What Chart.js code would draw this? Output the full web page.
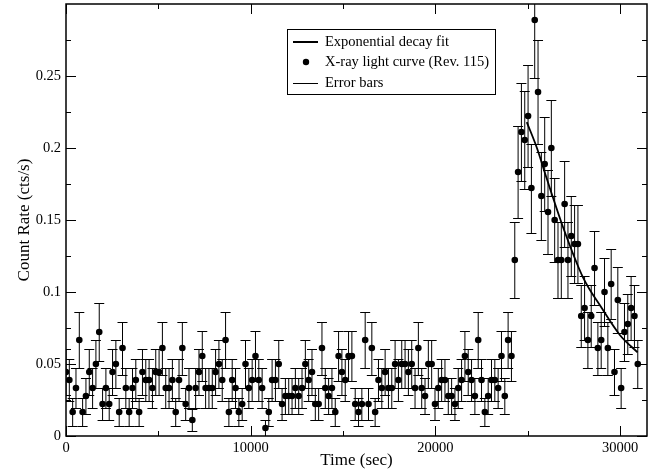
<!DOCTYPE html>
<html>
<head>
<meta charset="utf-8">
<title>X-ray light curve</title>
<script src="https://cdn.jsdelivr.net/npm/chart.js@4.4.1/dist/chart.umd.min.js"></script>
<style>
  body { margin: 0; background: #fff; }
  canvas { display: block; }
</style>
</head>
<body>
<canvas id="lightCurve" width="659" height="475"></canvas>
<script>
// bin start times (sec)
const timeSec = [
	0, 180, 360, 540, 720, 900, 1080, 1260, 1440, 1620,
	1800, 1980, 2160, 2340, 2520, 2700, 2880, 3060, 3240, 3420,
	3600, 3780, 3960, 4140, 4320, 4500, 4680, 4860, 5040, 5220,
	5400, 5580, 5760, 5940, 6120, 6300, 6480, 6660, 6840, 7020,
	7200, 7380, 7560, 7740, 7920, 8100, 8280, 8460, 8640, 8820,
	9000, 9180, 9360, 9540, 9720, 9900, 10080, 10260, 10440, 10620,
	10800, 10980, 11160, 11340, 11520, 11700, 11880, 12060, 12240, 12420,
	12600, 12780, 12960, 13140, 13320, 13500, 13680, 13860, 14040, 14220,
	14400, 14580, 14760, 14940, 15120, 15300, 15480, 15660, 15840, 16020,
	16200, 16380, 16560, 16740, 16920, 17100, 17280, 17460, 17640, 17820,
	18000, 18180, 18360, 18540, 18720, 18900, 19080, 19260, 19440, 19620,
	19800, 19980, 20160, 20340, 20520, 20700, 20880, 21060, 21240, 21420,
	21600, 21780, 21960, 22140, 22320, 22500, 22680, 22860, 23040, 23220,
	23400, 23580, 23760, 23940, 24120, 24300, 24480, 24660, 24840, 25020,
	25200, 25380, 25560, 25740, 25920, 26100, 26280, 26460, 26640, 26820,
	27000, 27180, 27360, 27540, 27720, 27900, 28080, 28260, 28440, 28620,
	28800, 28980, 29160, 29340, 29520, 29700, 29880, 30060, 30240, 30420,
	30600, 30780, 30960
];

// count rate (cts/s)
const countRate = [
	0.0444, 0.0389, 0.0167, 0.0333, 0.0667, 0.0167, 0.0278, 0.0444, 0.0333, 0.05,
	0.0722, 0.0222, 0.0333, 0.0222, 0.0444, 0.05, 0.0167, 0.0611, 0.0333, 0.0167,
	0.0333, 0.0389, 0.0167, 0.0444, 0.0389, 0.0389, 0.0333, 0.0444, 0.0444, 0.0611,
	0.0333, 0.0333, 0.0389, 0.0167, 0.0389, 0.0611, 0.0222, 0.0333, 0.0111, 0.0333,
	0.0444, 0.0556, 0.0333, 0.0333, 0.0333, 0.0444, 0.05, 0.0389, 0.0667, 0.0167,
	0.0389, 0.0333, 0.0167, 0.0222, 0.05, 0.0333, 0.0389, 0.0556, 0.0389, 0.0333,
	0.0056, 0.0167, 0.0389, 0.0389, 0.05, 0.0222, 0.0278, 0.0278, 0.0278, 0.0333,
	0.0278, 0.0333, 0.05, 0.0389, 0.0444, 0.0222, 0.0222, 0.0611, 0.0333, 0.0278,
	0.0333, 0.0167, 0.0556, 0.0444, 0.0389, 0.0556, 0.0556, 0.0222, 0.0167, 0.0222,
	0.0667, 0.0222, 0.0611, 0.0167, 0.0389, 0.0333, 0.0444, 0.0333, 0.0333, 0.05,
	0.0389, 0.05, 0.05, 0.0444, 0.05, 0.0333, 0.0611, 0.0333, 0.0278, 0.05,
	0.05, 0.0222, 0.0333, 0.0389, 0.0389, 0.0278, 0.0278, 0.0222, 0.0333, 0.0389,
	0.0556, 0.0444, 0.0389, 0.0278, 0.0667, 0.0389, 0.0167, 0.0278, 0.0389, 0.0389,
	0.0333, 0.0556, 0.0278, 0.0667, 0.0556, 0.1222, 0.1833, 0.2111, 0.2056, 0.2222,
	0.1722, 0.2889, 0.2389, 0.1667, 0.1889, 0.1556, 0.2, 0.15, 0.1222, 0.1222,
	0.1611, 0.1222, 0.1389, 0.1333, 0.1333, 0.0833, 0.0889, 0.0667, 0.0833, 0.1167,
	0.0611, 0.0667, 0.1, 0.0611, 0.1056, 0.0444, 0.0944, 0.0333, 0.0722, 0.0778,
	0.0889, 0.0833, 0.05
];

// 1-sigma errors (cts/s)
const rateError = [
	0.0157, 0.0147, 0.0096, 0.0136, 0.0192, 0.0096, 0.0124, 0.0157, 0.0136, 0.0167,
	0.0200, 0.0111, 0.0136, 0.0111, 0.0157, 0.0167, 0.0096, 0.0184, 0.0136, 0.0096,
	0.0136, 0.0147, 0.0096, 0.0157, 0.0147, 0.0147, 0.0136, 0.0157, 0.0157, 0.0184,
	0.0136, 0.0136, 0.0147, 0.0096, 0.0147, 0.0184, 0.0111, 0.0136, 0.0079, 0.0136,
	0.0157, 0.0176, 0.0136, 0.0136, 0.0136, 0.0157, 0.0167, 0.0147, 0.0192, 0.0096,
	0.0147, 0.0136, 0.0096, 0.0111, 0.0167, 0.0136, 0.0147, 0.0176, 0.0147, 0.0136,
	0.0056, 0.0096, 0.0147, 0.0147, 0.0167, 0.0111, 0.0124, 0.0124, 0.0124, 0.0136,
	0.0124, 0.0136, 0.0167, 0.0147, 0.0157, 0.0111, 0.0111, 0.0184, 0.0136, 0.0124,
	0.0136, 0.0096, 0.0176, 0.0157, 0.0147, 0.0176, 0.0176, 0.0111, 0.0096, 0.0111,
	0.0192, 0.0111, 0.0184, 0.0096, 0.0147, 0.0136, 0.0157, 0.0136, 0.0136, 0.0167,
	0.0147, 0.0167, 0.0167, 0.0157, 0.0167, 0.0136, 0.0184, 0.0136, 0.0124, 0.0167,
	0.0167, 0.0111, 0.0136, 0.0147, 0.0147, 0.0124, 0.0124, 0.0111, 0.0136, 0.0147,
	0.0176, 0.0157, 0.0147, 0.0124, 0.0192, 0.0147, 0.0096, 0.0124, 0.0147, 0.0147,
	0.0136, 0.0176, 0.0124, 0.0192, 0.0176, 0.0261, 0.0319, 0.0342, 0.0338, 0.0351,
	0.0309, 0.0401, 0.0364, 0.0304, 0.0324, 0.0294, 0.0333, 0.0289, 0.0261, 0.0261,
	0.0299, 0.0261, 0.0278, 0.0272, 0.0272, 0.0215, 0.0222, 0.0192, 0.0215, 0.0255,
	0.0184, 0.0192, 0.0236, 0.0184, 0.0242, 0.0157, 0.0229, 0.0136, 0.0200, 0.0208,
	0.0222, 0.0215, 0.0167
];

// exponential decay fit
const fitTime = [24950, 25500, 26000, 27000, 28000, 29000, 30000, 30950];
const fitRate = [0.218, 0.200, 0.180, 0.142, 0.110, 0.089, 0.070, 0.058];

const xTicks = [0, 10000, 20000, 30000];
const xMinorTicks = [5000, 15000, 25000];
const yTicks = [0, 0.05, 0.1, 0.15, 0.2, 0.25];
const yMinorTicks = [0.025, 0.075, 0.125, 0.175, 0.225, 0.275];

const serif = "'Liberation Serif', 'Times New Roman', serif";

// vertical error bars with caps
const errorBars = {
	id: 'errorBars',
	beforeDatasetsDraw(chart) {
		const { ctx, chartArea: a, scales: { x, y } } = chart;
		ctx.save();
		ctx.beginPath();
		ctx.rect(a.left, a.top, a.right - a.left, a.bottom - a.top);
		ctx.clip();
		ctx.strokeStyle = '#000';
		ctx.lineWidth = 1;
		timeSec.forEach((t, i) => {
			const px = x.getPixelForValue(t);
			const lo = Math.round(y.getPixelForValue(countRate[i] - rateError[i])) + 0.5;
			const hi = Math.round(y.getPixelForValue(countRate[i] + rateError[i])) + 0.5;
			ctx.beginPath();
			ctx.moveTo(px, lo);
			ctx.lineTo(px, hi);
			ctx.moveTo(px - 5, lo);
			ctx.lineTo(px + 5, lo);
			ctx.moveTo(px - 5, hi);
			ctx.lineTo(px + 5, hi);
			ctx.stroke();
		});
		ctx.restore();
	}
};

// frame, inward ticks on all four sides, legend box
const frameAndLegend = {
	id: 'frameAndLegend',
	afterDraw(chart) {
		const { ctx, chartArea: a, scales: { x, y } } = chart;
		ctx.save();
		ctx.strokeStyle = '#000';
		ctx.lineWidth = 1;
		ctx.beginPath();
		const tick = (vals, len) => {
			vals.forEach(v => {
				const px = Math.round(x.getPixelForValue(v)) + 0.5;
				ctx.moveTo(px, a.bottom); ctx.lineTo(px, a.bottom - len);
				ctx.moveTo(px, a.top); ctx.lineTo(px, a.top + len);
			});
		};
		const ytick = (vals, len) => {
			vals.forEach(v => {
				const py = Math.round(y.getPixelForValue(v)) + 0.5;
				ctx.moveTo(a.left, py); ctx.lineTo(a.left + len, py);
				ctx.moveTo(a.right, py); ctx.lineTo(a.right - len, py);
			});
		};
		tick(xTicks, 10);
		tick(xMinorTicks, 5);
		ytick(yTicks, 10);
		ytick(yMinorTicks, 5);
		ctx.stroke();

		ctx.lineWidth = 1.5;
		ctx.strokeRect(a.left, a.top, a.right - a.left, a.bottom - a.top);

		// legend
		ctx.fillStyle = '#fff';
		ctx.fillRect(287, 29.5, 208.5, 65);
		ctx.lineWidth = 1;
		ctx.strokeRect(287.5, 29.5, 208, 65);
		ctx.beginPath();
		ctx.lineWidth = 2;
		ctx.moveTo(293, 42); ctx.lineTo(318, 42);
		ctx.stroke();
		ctx.beginPath();
		ctx.lineWidth = 1;
		ctx.moveTo(293, 83.5); ctx.lineTo(318, 83.5);
		ctx.stroke();
		ctx.fillStyle = '#000';
		ctx.beginPath();
		ctx.arc(306, 62, 3.2, 0, Math.PI * 2);
		ctx.fill();
		ctx.font = '14.5px ' + serif;
		ctx.textBaseline = 'middle';
		ctx.fillText('Exponential decay fit', 325, 42);
		ctx.fillText('X-ray light curve (Rev. 115)', 325, 62.5);
		ctx.fillText('Error bars', 325, 83);
		ctx.restore();
	}
};

new Chart(document.getElementById('lightCurve'), {
	data: {
		datasets: [{
			type: 'line',
			label: 'Exponential decay fit',
			data: fitTime.map((t, i) => ({ x: t, y: fitRate[i] })),
			borderColor: '#000',
			borderWidth: 1.8,
			pointRadius: 0,
			cubicInterpolationMode: 'monotone',
			fill: false
		}, {
			type: 'scatter',
			label: 'X-ray light curve (Rev. 115)',
			data: timeSec.map((t, i) => ({ x: t, y: countRate[i] })),
			backgroundColor: '#000',
			borderWidth: 0,
			pointRadius: 3.3
		}]
	},
	options: {
		responsive: false,
		animation: false,
		layout: { padding: { left: 0, right: 12, top: 4, bottom: 0 } },
		plugins: { legend: { display: false }, tooltip: { enabled: false } },
		scales: {
			x: {
				type: 'linear',
				min: 0,
				max: 31460,
				afterBuildTicks: s => { s.ticks = xTicks.map(v => ({ value: v })); },
				afterFit: s => { s.height = 39; s.paddingLeft = 0; s.paddingRight = 0; },
				grid: { display: false, drawTicks: false },
				border: { display: false },
				ticks: {
					color: '#000',
					padding: 3,
					maxRotation: 0,
					autoSkip: false,
					font: { family: serif, size: 14.5 },
					callback: v => String(v)
				},
				title: {
					display: true,
					text: 'Time (sec)',
					color: '#000',
					font: { family: serif, size: 17, lineHeight: 1.2 },
					padding: { top: 0, bottom: 4 }
				}
			},
			y: {
				type: 'linear',
				min: 0,
				max: 0.3,
				afterBuildTicks: s => { s.ticks = yTicks.map(v => ({ value: v })); },
				afterFit: s => { s.width = 66; s.paddingTop = 0; s.paddingBottom = 0; },
				grid: { display: false, drawTicks: false },
				border: { display: false },
				ticks: {
					color: '#000',
					padding: 5,
					autoSkip: false,
					font: { family: serif, size: 14.5 },
					callback: v => String(+v.toFixed(2))
				},
				title: {
					display: true,
					text: 'Count Rate (cts/s)',
					color: '#000',
					font: { family: serif, size: 17, lineHeight: 1.2 },
					padding: { top: 14, bottom: 0 }
				}
			}
		}
	},
	plugins: [errorBars, frameAndLegend]
});
</script>
</body>
</html>
